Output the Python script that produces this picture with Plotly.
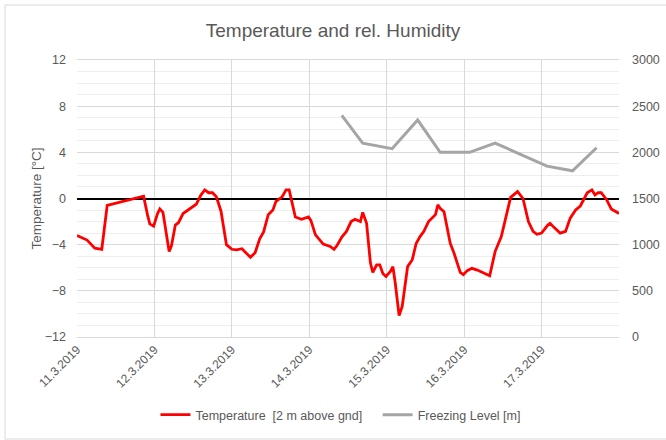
import pandas as pd
import plotly.graph_objects as go

# Temperature: time offset in days from 11.3.2019 00:00, value in °C
temp_days = [0.0, 0.08, 0.13, 0.23, 0.32, 0.39, 0.86, 0.91, 0.94, 0.99, 1.04, 1.07, 1.11, 1.19, 1.22,
             1.27, 1.31, 1.37, 1.46, 1.54, 1.60, 1.65, 1.70, 1.75, 1.80, 1.86, 1.93, 2.00, 2.06, 2.13,
             2.24, 2.30, 2.36, 2.41, 2.47, 2.53, 2.57, 2.65, 2.70, 2.74, 2.82, 2.90, 2.99, 3.02, 3.08,
             3.18, 3.27, 3.32, 3.36, 3.42, 3.48, 3.54, 3.59, 3.66, 3.69, 3.74, 3.79, 3.82, 3.87, 3.91,
             3.95, 3.99, 4.05, 4.08, 4.11, 4.16, 4.20, 4.27, 4.33, 4.38, 4.43, 4.48, 4.54, 4.60, 4.63,
             4.66, 4.69, 4.74, 4.82, 4.87, 4.95, 4.99, 5.04, 5.10, 5.17, 5.33, 5.40, 5.48, 5.54, 5.60,
             5.69, 5.76, 5.83, 5.89, 5.94, 6.00, 6.08, 6.11, 6.16, 6.24, 6.31, 6.37, 6.44, 6.50, 6.59,
             6.65, 6.69, 6.73, 6.77, 6.84, 6.90, 6.96, 7.0]
temp_values = [-3.2, -3.45, -3.6, -4.3, -4.4, -0.6, 0.2, -1.4, -2.2, -2.4, -1.3, -0.9, -1.2, -4.6, -4.1,
               -2.3, -2.1, -1.3, -0.9, -0.5, 0.3, 0.75, 0.5, 0.5, 0.15, -1.1, -4.0, -4.4, -4.45, -4.35,
               -5.1, -4.7, -3.5, -2.9, -1.4, -1.0, -0.25, 0.15, 0.75, 0.75, -1.6, -1.8, -1.6, -1.9, -3.15,
               -3.95, -4.15, -4.4, -4.05, -3.35, -2.85, -2.0, -1.8, -2.0, -1.2, -2.15, -5.6, -6.4, -5.75, -5.75,
               -6.5, -6.75, -6.3, -5.9, -7.3, -10.15, -9.35, -5.9, -5.3, -3.9, -3.3, -2.85, -2.0, -1.55, -1.4,
               -0.55, -0.85, -1.15, -3.87, -4.75, -6.4, -6.6, -6.25, -6.05, -6.2, -6.7, -4.6, -3.3, -1.55, 0.1,
               0.6, 0.0, -2.0, -2.85, -3.1, -3.0, -2.3, -2.15, -2.5, -3.0, -2.85, -1.7, -1.0, -0.65, 0.5,
               0.75, 0.3, 0.5, 0.5, -0.1, -0.9, -1.1, -1.3]

# Freezing level: time offset in days, altitude in m
fl_days = [3.42, 3.69, 4.07, 4.40, 4.69, 5.07, 5.40, 6.07, 6.40, 6.71]
fl_values = [2400, 2100, 2040, 2350, 2000, 2000, 2100, 1850, 1800, 2050]

tick_dates = ["2019-03-11", "2019-03-12", "2019-03-13", "2019-03-14",
              "2019-03-15", "2019-03-16", "2019-03-17"]
tick_labels = ["11.3.2019", "12.3.2019", "13.3.2019", "14.3.2019",
               "15.3.2019", "16.3.2019", "17.3.2019"]

base = pd.Timestamp("2019-03-11")
temp_x = [base + pd.Timedelta(days=d) for d in temp_days]
fl_x = [base + pd.Timedelta(days=d) for d in fl_days]

FONT = "Liberation Sans"
GREY = "#595959"

fig = go.Figure()
fig.add_trace(go.Scatter(x=temp_x, y=temp_values, mode="lines",
                         name="Temperature \u00a0[2 m above gnd]\u00a0\u00a0\u00a0",
                         line=dict(color="#ff0000", width=2.8), yaxis="y"))
fig.add_trace(go.Scatter(x=fl_x, y=fl_values, mode="lines",
                         name="Freezing Level [m]",
                         line=dict(color="#a5a5a5", width=3), yaxis="y2"))

W, H = 666, 440
L, R, T, B = 77, 47, 60, 103
pw, ph = W - L - R, H - T - B

fig.update_layout(
    width=W, height=H,
    margin=dict(l=L, r=R, t=T, b=B, pad=0, autoexpand=False),
    paper_bgcolor="white", plot_bgcolor="white",
    font=dict(family=FONT, color=GREY, size=12),
    title=dict(text="Temperature and rel. Humidity", x=0.5, xanchor="center",
               y=1 - 30 / H, yanchor="middle", font=dict(size=19, color=GREY, family=FONT)),
    xaxis=dict(type="date", range=["2019-03-11", "2019-03-18"], automargin=False,
               tickvals=tick_dates, ticktext=tick_labels, tickangle=-45,
               showgrid=True, gridcolor="#d9d9d9", gridwidth=1,
               showline=True, linecolor="#d9d9d9", linewidth=1, mirror=True,
               ticks="", tickfont=dict(size=12, color=GREY), zeroline=False),
    yaxis=dict(range=[-12, 12], tickvals=[-12, -8, -4, 0, 4, 8, 12], automargin=False,
               showgrid=True, gridcolor="#d9d9d9", gridwidth=1,
               minor=dict(dtick=1, showgrid=True, gridcolor="#eeeeee", gridwidth=1),
               zeroline=True, zerolinecolor="#000000", zerolinewidth=1.5,
               showline=False, ticks="", ticklabelstandoff=10,
               title=dict(text="Temperature [°C]", font=dict(size=13.5, color=GREY), standoff=0),
               tickfont=dict(size=12.5, color=GREY)),
    yaxis2=dict(range=[0, 3000], dtick=500, overlaying="y", side="right", automargin=False,
                showgrid=False, zeroline=False, showline=False, ticks="",
                ticklabelstandoff=12, tickfont=dict(size=12.5, color=GREY)),
    legend=dict(orientation="h", x=0.487, xanchor="center",
                y=-(415 - (T + ph)) / ph, yanchor="middle",
                font=dict(size=12.5, color=GREY), itemwidth=30,
                bgcolor="rgba(0,0,0,0)"),
    showlegend=True,
    shapes=[dict(type="rect", xref="paper", yref="paper",
                 x0=(5 - L) / pw, x1=(672 - L) / pw,
                 y0=((T + ph) - 439) / ph, y1=((T + ph) - 5) / ph,
                 line=dict(color="#d9d9d9", width=1), fillcolor="rgba(0,0,0,0)",
                 layer="below")],
)

fig.write_html("out.html", config={"displayModeBar": False},
               post_script="document.body.style.margin='0';")
